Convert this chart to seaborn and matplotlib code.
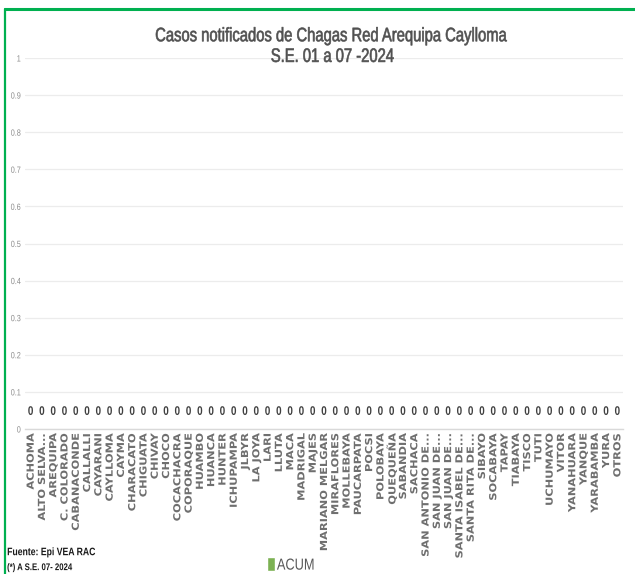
import matplotlib
matplotlib.use("Agg")
import matplotlib.pyplot as plt
import seaborn as sns
import pandas as pd
from matplotlib.patheffects import AbstractPathEffect
from matplotlib.transforms import Affine2D

distritos = [
    "ACHOMA", "ALTO SELVA...", "AREQUIPA", "C. COLORADO", "CABANACONDE",
    "CALLALLI", "CAYARANI", "CAYLLOMA", "CAYMA", "CHARACATO", "CHIGUATA",
    "CHIVAY", "CHOCO", "COCACHACRA", "COPORAQUE", "HUAMBO", "HUANCA",
    "HUNTER", "ICHUPAMPA", "JLBYR", "LA JOYA", "LARI", "LLUTA", "MACA",
    "MADRIGAL", "MAJES", "MARIANO MELGAR", "MIRAFLORES", "MOLLEBAYA",
    "PAUCARPATA", "POCSI", "POLOBAYA", "QUEQUEÑA", "SABANDIA", "SACHACA",
    "SAN ANTONIO DE...", "SAN JUAN DE...", "SAN JUAN DE...",
    "SANTA ISABEL DE...", "SANTA RITA DE...", "SIBAYO", "SOCABAYA", "TAPAY",
    "TIABAYA", "TISCO", "TUTI", "UCHUMAYO", "VITOR", "YANAHUARA", "YANQUE",
    "YARABAMBA", "YURA", "OTROS",
]
acum = [0] * len(distritos)
y_ticks = [0, 0.1, 0.2, 0.3, 0.4, 0.5, 0.6, 0.7, 0.8, 0.9, 1]
y_tick_labels = ["0", "0.1", "0.2", "0.3", "0.4", "0.5", "0.6", "0.7", "0.8", "0.9", "1"]

df = pd.DataFrame({"pos": range(len(distritos)), "ACUM": acum})


class Stretch(AbstractPathEffect):
    """Scale glyph outlines along the text direction (narrow / wide faces),
    optionally thickening the strokes a little."""

    def __init__(self, sx, anchor=0.5, stroke=0.0):
        super().__init__()
        self.sx = sx
        self.anchor = anchor
        self.stroke = stroke

    def draw_path(self, renderer, gc, tpath, affine, rgbFace=None):
        ext = tpath.get_extents()
        x0 = ext.x0 + self.anchor * ext.width
        t = Affine2D().translate(-x0, 0).scale(self.sx, 1).translate(x0, 0)
        gc0 = renderer.new_gc()
        gc0.copy_properties(gc)
        if self.stroke > 0 and rgbFace is not None:
            gc0.set_linewidth(self.stroke)
            gc0.set_foreground(rgbFace)
        renderer.draw_path(gc0, tpath, t + affine, rgbFace)
        gc0.restore()


NARROW = 0.80
sns.set_theme(style="white")
plt.rcParams["font.family"] = ["Liberation Sans", "DejaVu Sans"]

fig = plt.figure(figsize=(6.35, 5.74), dpi=100)
ax = fig.add_axes([25 / 635, 145 / 574, 598 / 635, 371 / 574])

sns.barplot(data=df, x="pos", y="ACUM", color="#7ac143", width=0.6,
            ax=ax, label="ACUM")

ax.set_ylim(0, 1)
ax.set_xlim(-0.5, len(distritos) - 0.5)
ax.set_yticks(y_ticks)
ax.set_yticklabels(y_tick_labels, fontsize=6.5, color="#8c8c8c")
for lbl in ax.get_yticklabels():
    lbl.set_path_effects([Stretch(NARROW, anchor=1.0)])
ax.yaxis.grid(True, color="#ececec", linewidth=0.9)
ax.set_axisbelow(True)
ax.tick_params(axis="y", length=0, pad=3)
ax.tick_params(axis="x", length=0, pad=3)
ax.set_xticks(range(len(distritos)))
ax.set_xticklabels(distritos, rotation=90, fontsize=7.0, fontweight="bold",
                   color="#6f6f6f", family="DejaVu Sans")
for lbl in ax.get_xticklabels():
    lbl.set_va("top")
    lbl.set_path_effects([Stretch(1.17, anchor=1.0)])
ax.set_xlabel("")
ax.set_ylabel("")
for side in ["top", "right", "left"]:
    ax.spines[side].set_visible(False)
ax.spines["bottom"].set_color("#d9d9d9")
ax.spines["bottom"].set_linewidth(1.0)

for cont in ax.containers:
    texts = ax.bar_label(cont, labels=[f"{v:g}" for v in acum], padding=8,
                         fontsize=9, fontweight="bold", color="#404040")
    for t in texts:
        t.set_path_effects([Stretch(NARROW)])

title_fx = [Stretch(0.76, stroke=0.45)]
fig.text(0.524, 0.936, "Casos notificados de Chagas Red Arequipa Caylloma",
         ha="center", va="center", fontsize=14, color="#505050",
         path_effects=title_fx)
fig.text(0.524, 0.900, "S.E. 01 a 07 -2024", ha="center", va="center",
         fontsize=14, color="#505050", path_effects=title_fx)

fig.text(0.011, 0.038, "Fuente: Epi VEA RAC", ha="left", va="center",
         fontsize=7.8, fontweight="bold", color="#1a1a1a",
         path_effects=[Stretch(NARROW, anchor=0.0)])
fig.text(0.011, 0.012, "(*) A S.E. 07- 2024", ha="left", va="center",
         fontsize=7.0, fontweight="bold", color="#1a1a1a",
         path_effects=[Stretch(NARROW, anchor=0.0)])

leg = ax.legend(loc="center", bbox_to_anchor=(0.465, 0.016),
                bbox_transform=fig.transFigure, frameon=False,
                handlelength=0.55, handleheight=1.0, handletextpad=0.1,
                prop={"size": 11.5})
for t in leg.get_texts():
    t.set_color("#595959")
    t.set_path_effects([Stretch(NARROW, anchor=0.0)])

# green frame around the chart area
fig.add_artist(plt.Line2D([0.008, 0.008], [0, 0.985], transform=fig.transFigure,
                          color="#00b050", linewidth=1.6))
fig.add_artist(plt.Line2D([0.008, 1.0], [0.985, 0.985], transform=fig.transFigure,
                          color="#00b050", linewidth=2.2))

fig.savefig("out.png", dpi=100, facecolor="white")
